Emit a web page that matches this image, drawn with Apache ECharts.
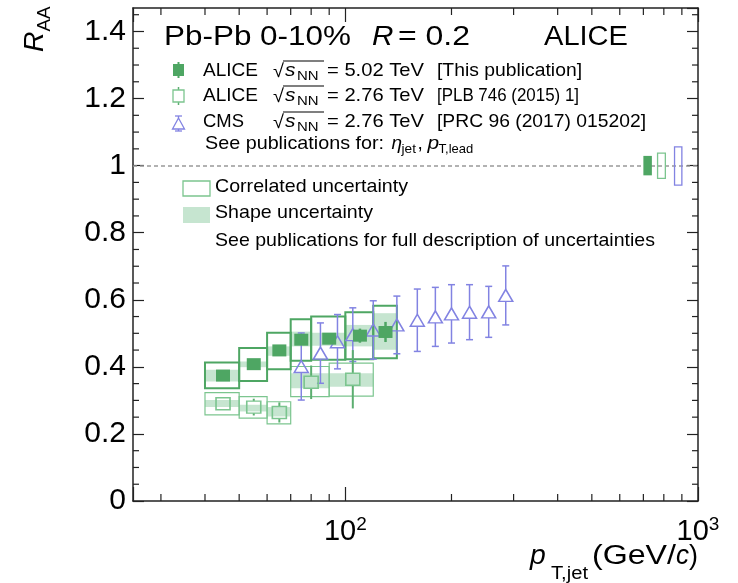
<!DOCTYPE html>
<html><head><meta charset="utf-8">
<script src="https://cdn.jsdelivr.net/npm/echarts@6/dist/echarts.min.js"></script>
<style>html,body{margin:0;padding:0;background:#fff}#c{width:738px;height:583px}</style>
</head><body><div id="c"></div>
<script>
// ---------------- DATA ----------------
// ALICE sqrt(sNN)=5.02 TeV (this publication)
const a502_xlo = [40, 50, 60, 70, 80, 100, 120];
const a502_xhi = [50, 60, 70, 80, 100, 120, 140];
const a502_x = [45, 55, 65, 75, 90, 110, 130];
const a502_y = [0.374, 0.408, 0.449, 0.481, 0.484, 0.493, 0.504];
const a502_stat = [0.006, 0.008, 0.010, 0.013, 0.015, 0.021, 0.030];
const a502_corrLo = [0.336, 0.358, 0.393, 0.418, 0.421, 0.423, 0.426];
const a502_corrHi = [0.413, 0.456, 0.502, 0.542, 0.550, 0.563, 0.582];
const a502_shapeLo = [0.356, 0.399, 0.433, 0.461, 0.463, 0.461, 0.451];
const a502_shapeHi = [0.391, 0.416, 0.461, 0.505, 0.502, 0.525, 0.560];
// ALICE sqrt(sNN)=2.76 TeV
const a276_xlo = [40, 50, 60, 70, 90];
const a276_xhi = [50, 60, 70, 90, 120];
const a276_x = [45, 55, 65, 80, 105];
const a276_y = [0.290, 0.280, 0.264, 0.354, 0.363];
const a276_stat = [0.010, 0.025, 0.030, 0.050, 0.087];
const a276_corrLo = [0.257, 0.247, 0.230, 0.311, 0.313];
const a276_corrHi = [0.323, 0.311, 0.296, 0.401, 0.411];
const a276_shapeLo = [0.280, 0.267, 0.252, 0.336, 0.341];
const a276_shapeHi = [0.301, 0.287, 0.280, 0.381, 0.381];
// CMS sqrt(sNN)=2.76 TeV
const cms_x = [75, 85, 95, 105, 120, 140, 160, 180, 200, 225, 255, 285];
const cms_y = [0.401, 0.441, 0.475, 0.496, 0.510, 0.525, 0.539, 0.549, 0.558, 0.563, 0.564, 0.613];
const cms_err = [0.100, 0.090, 0.081, 0.080, 0.087, 0.086, 0.093, 0.088, 0.087, 0.082, 0.076, 0.088];
// normalisation uncertainty boxes at RAA = 1: [xlo, xhi, ylo, yhi]
const norm502 = [700, 740, 0.971, 1.029];
const norm276 = [768, 808, 0.962, 1.037];
const normCMS = [858, 900, 0.942, 1.056];
// axes
const xMin = 25, xMax = 1000;
const yMin = 0, yMax = 1.47, yStep = 0.2;
const xMinorTicks = [30, 40, 50, 60, 70, 80, 90, 200, 300, 400, 500, 600, 700, 800, 900];
const yMinorTicks = [0.05, 0.1, 0.15, 0.25, 0.3, 0.35, 0.45, 0.5, 0.55, 0.65, 0.7, 0.75, 0.85, 0.9, 0.95,
  1.05, 1.1, 1.15, 1.25, 1.3, 1.35, 1.45];

// ---------------- STYLE ----------------
const FONT = '"Liberation Sans", Arial, Helvetica, sans-serif';
const C502 = '#4ea663', C276 = '#7cc58f', C276E = '#5cae70', BAND = '#c6e5d0', CMSC = '#8283e2', FRAME = '#222';

const boxes = (lo, hi, ylo, yhi) => lo.map((v, i) => [v, hi[i], ylo[i], yhi[i]]);
const pts = (x, y, e) => x.map((v, i) => [v, y[i], e[i]]);

function rectItem(style) {
  return function (params, api) {
    const a = api.coord([api.value(0), api.value(3)]);
    const b = api.coord([api.value(1), api.value(2)]);
    return { type: 'rect', shape: { x: a[0], y: a[1], width: b[0] - a[0], height: b[1] - a[1] }, style: style };
  };
}
function errItem(color, lw, gap, cap) {
  return function (params, api) {
    const x = api.value(0), y = api.value(1), e = api.value(2);
    const c = api.coord([x, y]), t = api.coord([x, y + e]), b = api.coord([x, y - e]);
    const st = { stroke: color, lineWidth: lw };
    const ch = [];
    if (c[1] - gap > t[1]) ch.push({ type: 'line', shape: { x1: c[0], y1: t[1], x2: c[0], y2: c[1] - gap }, style: st });
    if (c[1] + gap < b[1]) ch.push({ type: 'line', shape: { x1: c[0], y1: c[1] + gap, x2: c[0], y2: b[1] }, style: st });
    if (cap) {
      ch.push({ type: 'line', shape: { x1: c[0] - cap, y1: t[1], x2: c[0] + cap, y2: t[1] }, style: st });
      ch.push({ type: 'line', shape: { x1: c[0] - cap, y1: b[1], x2: c[0] + cap, y2: b[1] }, style: st });
    }
    return { type: 'group', children: ch };
  };
}
function xTickItem(params, api) {
  const p = api.coord([api.value(0), yMin]);
  const cs = params.coordSys;
  const st = { stroke: FRAME, lineWidth: 1.2 };
  return { type: 'group', children: [
    { type: 'line', shape: { x1: p[0], y1: cs.y + cs.height, x2: p[0], y2: cs.y + cs.height - 7 }, style: st },
    { type: 'line', shape: { x1: p[0], y1: cs.y, x2: p[0], y2: cs.y + 7 }, style: st }
  ] };
}
function yTickItem(params, api) {
  const p = api.coord([100, api.value(1)]);
  const cs = params.coordSys;
  const st = { stroke: FRAME, lineWidth: 1.2 };
  return { type: 'group', children: [
    { type: 'line', shape: { x1: cs.x, y1: p[1], x2: cs.x + 6, y2: p[1] }, style: st },
    { type: 'line', shape: { x1: cs.x + cs.width, y1: p[1], x2: cs.x + cs.width - 6, y2: p[1] }, style: st }
  ] };
}

// ---------------- TEXT HELPERS ----------------
const mctx = document.createElement('canvas').getContext('2d');
function fontOf(size, it) { return (it ? 'italic ' : '') + size + 'px ' + FONT; }
function W(str, size, it) { mctx.font = fontOf(size, it); return mctx.measureText(str).width; }
function T(x, base, str, size, o) {
  o = o || {};
  const w = W(str, size, o.it);
  const k = o.to ? (o.to - x) / w : (o.k || 1);
  return { type: 'text', x: x, y: base - 0.35 * size, scaleX: k, z: 100, silent: true,
    style: { text: str, font: fontOf(size, o.it), fill: o.c || '#000', align: 'left', verticalAlign: 'middle' } };
}
function L(x1, y1, x2, y2, c, w) {
  return { type: 'line', z: 100, silent: true, shape: { x1, y1, x2, y2 }, style: { stroke: c, lineWidth: w } };
}

const g = [];
// header
g.push(T(164, 47, 'Pb-Pb 0-10%', 27, { to: 351 }));
g.push(T(372, 47, 'R', 27, { it: true, k: 1.1 }));
g.push(T(398, 47, '= 0.2', 27, { to: 470 }));
g.push(T(544, 47, 'ALICE', 27, { to: 628 }));
// legend rows
const rows = [
  { name: 'ALICE', nameEnd: 258, en: '= 5.02 TeV', ref: '[This publication]', refEnd: 582, base: 77 },
  { name: 'ALICE', nameEnd: 258, en: '= 2.76 TeV', ref: '[PLB 746 (2015) 1]', refEnd: 579, base: 102 },
  { name: 'CMS', nameEnd: 244, en: '= 2.76 TeV', ref: '[PRC 96 (2017) 015202]', refEnd: 646, base: 128 }
];
rows.forEach(r => {
  const b = r.base;
  g.push(T(203, b, r.name, 19, { to: r.nameEnd }));
  g.push(T(273, b + 1, '\u221A', 19, { k: 1.05 }));
  g.push(T(285, b, 's', 19, { it: true, k: 1.1 }));
  g.push(T(297, b + 4, 'NN', 13, { k: 1.15 }));
  g.push(L(283, b - 16, 324, b - 16, '#000', 1.2));
  g.push(T(327, b, r.en, 19, { to: 424 }));
  g.push(T(437, b, r.ref, 19, { to: r.refEnd }));
});
// legend markers
g.push(L(178.5, 62, 178.5, 78, C502, 2));
g.push({ type: 'rect', z: 100, silent: true, shape: { x: 173, y: 64, width: 11, height: 12 }, style: { fill: C502 } });
g.push(L(178.5, 87, 178.5, 90, C276E, 1.5));
g.push(L(178.5, 102, 178.5, 105, C276E, 1.5));
g.push({ type: 'rect', z: 100, silent: true, shape: { x: 173, y: 90, width: 11, height: 12 }, style: { fill: 'none', stroke: C276, lineWidth: 1.3 } });
g.push(L(175, 116, 182, 116, CMSC, 1.3));
g.push(L(178.5, 116, 178.5, 118, CMSC, 1.3));
g.push({ type: 'polygon', z: 100, silent: true, shape: { points: [[178.5, 118], [172.5, 129], [184.5, 129]] }, style: { fill: 'none', stroke: CMSC, lineWidth: 1.3 } });
g.push(L(178.5, 129, 178.5, 131, CMSC, 1.3));
g.push(L(175, 131, 182, 131, CMSC, 1.3));
// see publications
const seeEnd = 205 + W('See publications for: ', 19) * 1.04;
g.push(T(205, 150, 'See publications for:', 19, { k: 1.04 }));
g.push(T(seeEnd + 2, 150, '\u03B7', 19, { it: true }));
g.push(T(seeEnd + 12, 154, 'jet', 13, { k: 1.05 }));
g.push(T(seeEnd + 28, 150, ',', 19));
g.push(T(seeEnd + 38, 150, 'p', 19, { it: true, k: 1.1 }));
g.push(T(seeEnd + 49, 154, 'T,lead', 13, { k: 1.0 }));
// uncertainty legend
g.push({ type: 'rect', z: 100, silent: true, shape: { x: 183, y: 181, width: 27, height: 15 }, style: { fill: 'none', stroke: C276, lineWidth: 1.3 } });
g.push({ type: 'rect', z: 100, silent: true, shape: { x: 183, y: 207, width: 27, height: 16 }, style: { fill: BAND } });
g.push(T(215, 193, 'Correlated uncertainty', 19, { to: 408 }));
g.push(T(215, 219, 'Shape uncertainty', 19, { to: 373 }));
g.push(T(215, 247, 'See publications for full description of uncertainties', 19, { to: 655 }));
// x title
g.push(T(530, 566, 'p', 27, { it: true, k: 1.05 }));
g.push(T(551, 580, 'T,jet', 18, { to: 588 }));
g.push(T(592, 566, '(GeV/', 27, { to: 676 }));
g.push(T(676, 566, 'c', 27, { it: true, to: 689 }));
g.push(T(689, 566, ')', 27, { to: 698 }));
// y title (rotated)
const wR = W('R', 27, true);
g.push({ type: 'group', x: 45, y: 52, rotation: Math.PI / 2, children: [
  T(0, 0, 'R', 27, { it: true, k: 1.05 }),
  T(wR * 1.05, 6, 'AA', 18, { k: 1.05 })
] });

// ---------------- CHART ----------------
const chart = echarts.init(document.getElementById('c'), null, { renderer: 'canvas' });
const axisLine = { show: true, onZero: false, lineStyle: { color: FRAME, width: 1.5 } };
const xLabelFmt = function (v) {
  const l = Math.log10(v);
  if (Math.abs(l - Math.round(l)) > 1e-6) return '';
  return '{b|10}{s|' + Math.round(l) + '}';
};
const option = {
  animation: false,
  backgroundColor: '#fff',
  grid: { left: 133, right: 40, top: 8, bottom: 82, containLabel: false, outerBoundsMode: 'none' },
  xAxis: [
    { type: 'log', logBase: 10, min: xMin, max: xMax, position: 'bottom', axisLine: axisLine,
      axisTick: { show: true, inside: true, length: 14, lineStyle: { color: FRAME, width: 1.2 } },
      axisLabel: { formatter: xLabelFmt, margin: 14, color: '#000',
        rich: { b: { fontSize: 29, fontFamily: FONT, color: '#000' },
                s: { fontSize: 19, fontFamily: FONT, color: '#000', verticalAlign: 'top', padding: [0, 0, 14, 0] } } },
      splitLine: { show: false }, minorTick: { show: false }, minorSplitLine: { show: false } },
    { type: 'log', logBase: 10, min: xMin, max: xMax, position: 'top', axisLine: axisLine,
      axisTick: { show: true, inside: true, length: 14, lineStyle: { color: FRAME, width: 1.2 } },
      axisLabel: { show: false }, splitLine: { show: false } }
  ],
  yAxis: [
    { type: 'value', min: yMin, max: yMax, interval: yStep, position: 'left', axisLine: axisLine,
      axisTick: { show: true, inside: true, length: 11, lineStyle: { color: FRAME, width: 1.2 } },
      axisLabel: { fontSize: 30, fontFamily: FONT, color: '#000', margin: 7, showMaxLabel: false },
      splitLine: { show: false } },
    { type: 'value', min: yMin, max: yMax, interval: yStep, position: 'right', axisLine: axisLine,
      axisTick: { show: true, inside: true, length: 11, lineStyle: { color: FRAME, width: 1.2 } },
      axisLabel: { show: false }, splitLine: { show: false } }
  ],
  series: [
    { type: 'custom', name: 'shape276', z: 1, clip: false, renderItem: rectItem({ fill: BAND }),
      encode: { x: [0, 1], y: [2, 3] }, data: boxes(a276_xlo, a276_xhi, a276_shapeLo, a276_shapeHi),
      markLine: { silent: true, symbol: ['none', 'none'], label: { show: false },
        lineStyle: { color: '#999', width: 1.5, type: [4, 3] }, data: [{ yAxis: 1 }] } },
    { type: 'custom', name: 'shape502', z: 1, renderItem: rectItem({ fill: BAND }),
      encode: { x: [0, 1], y: [2, 3] }, data: boxes(a502_xlo, a502_xhi, a502_shapeLo, a502_shapeHi) },
    { type: 'custom', name: 'corr276', z: 2, renderItem: rectItem({ fill: 'none', stroke: C276, lineWidth: 1.2 }),
      encode: { x: [0, 1], y: [2, 3] }, data: boxes(a276_xlo, a276_xhi, a276_corrLo, a276_corrHi) },
    { type: 'custom', name: 'corr502', z: 3, renderItem: rectItem({ fill: 'none', stroke: C502, lineWidth: 2 }),
      encode: { x: [0, 1], y: [2, 3] }, data: boxes(a502_xlo, a502_xhi, a502_corrLo, a502_corrHi) },
    { type: 'custom', name: 'norm502', z: 5, renderItem: rectItem({ fill: C502 }),
      encode: { x: [0, 1], y: [2, 3] }, data: [norm502] },
    { type: 'custom', name: 'norm276', z: 5, renderItem: rectItem({ fill: 'none', stroke: C276, lineWidth: 1.3 }),
      encode: { x: [0, 1], y: [2, 3] }, data: [norm276] },
    { type: 'custom', name: 'normCMS', z: 5, renderItem: rectItem({ fill: 'none', stroke: CMSC, lineWidth: 1.3 }),
      encode: { x: [0, 1], y: [2, 3] }, data: [normCMS] },
    { type: 'custom', name: 'cmsErr', z: 6, renderItem: errItem(CMSC, 1.5, 6, 3.5),
      encode: { x: 0, y: 1 }, data: pts(cms_x, cms_y, cms_err) },
    { type: 'scatter', name: 'CMS', z: 7, symbol: 'triangle', symbolSize: [14, 12],
      itemStyle: { color: 'rgba(0,0,0,0)', borderColor: CMSC, borderWidth: 1.5, opacity: 1 },
      data: cms_x.map((v, i) => [v, cms_y[i]]) },
    { type: 'custom', name: 'err276', z: 8, renderItem: errItem(C276E, 2, 6, 0),
      encode: { x: 0, y: 1 }, data: pts(a276_x, a276_y, a276_stat) },
    { type: 'scatter', name: 'ALICE 2.76', z: 9, symbol: 'rect', symbolSize: [14, 12],
      itemStyle: { color: 'rgba(0,0,0,0)', borderColor: C276, borderWidth: 1.5, opacity: 1 },
      data: a276_x.map((v, i) => [v, a276_y[i]]) },
    { type: 'custom', name: 'err502', z: 10, renderItem: errItem(C502, 2.5, 0, 0),
      encode: { x: 0, y: 1 }, data: pts(a502_x, a502_y, a502_stat) },
    { type: 'scatter', name: 'ALICE 5.02', z: 11, symbol: 'rect', symbolSize: [14, 12],
      itemStyle: { color: C502, opacity: 1 },
      data: a502_x.map((v, i) => [v, a502_y[i]]) },
    { type: 'custom', name: 'xMinor', z: 12, renderItem: xTickItem, encode: { x: 0 },
      data: xMinorTicks.map(v => [v]) },
    { type: 'custom', name: 'yMinor', z: 12, renderItem: yTickItem, encode: { y: 1 },
      data: yMinorTicks.map(v => [100, v]) }
  ],
  graphic: { elements: g }
};
chart.setOption(option);
</script></body></html>
